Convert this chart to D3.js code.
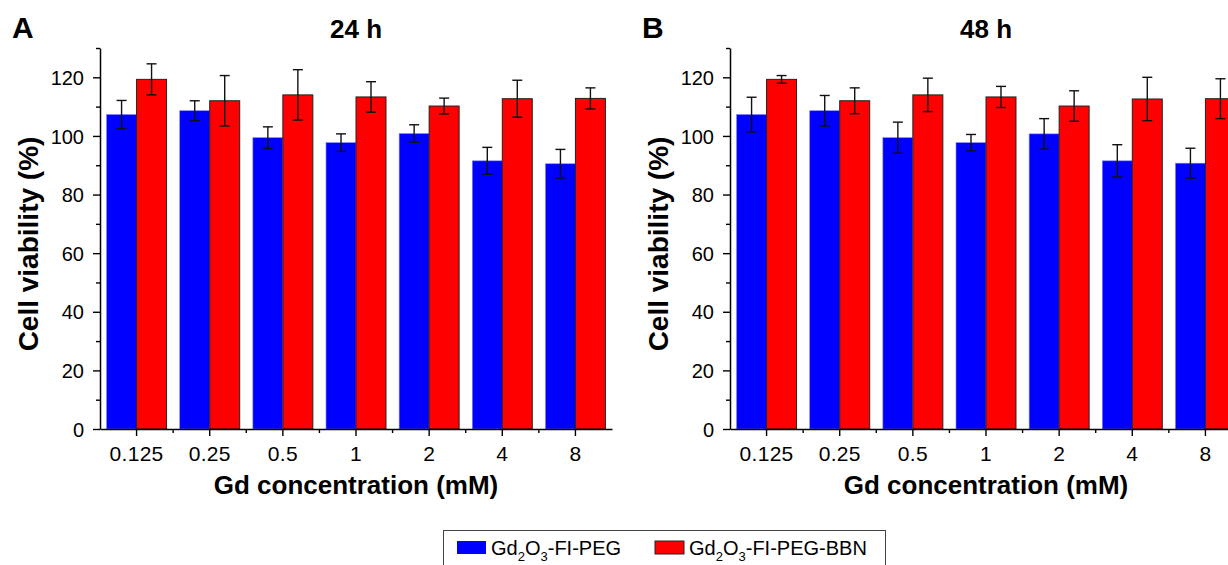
<!DOCTYPE html>
<html>
<head>
<meta charset="utf-8">
<script src="https://cdn.jsdelivr.net/npm/d3@7"></script>
<style>
  body { margin: 0; background: #fff; }
  svg { font-family: "Liberation Sans", Arial, sans-serif; }
</style>
</head>
<body>
<svg id="vis" width="1228" height="565"></svg>
<script>
// concentrations (mM)
var categories = ["0.125", "0.25", "0.5", "1", "2", "4", "8"];

// 24 h
var peg24 = [107.3, 108.6, 99.4, 97.7, 100.8, 91.5, 90.5];
var peg24Err = [4.8, 3.4, 3.7, 3.0, 3.0, 4.6, 4.9];
var bbn24 = [119.3, 112.0, 114.0, 113.3, 110.2, 112.7, 112.8];
var bbn24Err = [5.3, 8.6, 8.6, 5.2, 2.7, 6.3, 3.6];

// 48 h
var peg48 = [107.3, 108.6, 99.4, 97.7, 100.7, 91.5, 90.7];
var peg48Err = [5.9, 5.2, 5.3, 2.8, 5.2, 5.5, 5.1];
var bbn48 = [119.3, 112.0, 114.0, 113.3, 110.2, 112.6, 112.7];
var bbn48Err = [1.3, 4.4, 5.7, 3.6, 5.2, 7.4, 6.8];

var yMajor = [0, 20, 40, 60, 80, 100, 120];
var yMinor = [10, 30, 50, 70, 90, 110, 130];

var seriesNames = ["Gd2O3-FI-PEG", "Gd2O3-FI-PEG-BBN"];
var colors = ["#0000ff", "#ff0000"];

var svg = d3.select("#vis");
var plotTop = 48, plotBottom = 429;

function drawPanel(x0, letter, title, peg, pegErr, bbn, bbnErr) {
    var g = svg.append("g");
    var xScale = d3.scaleBand()
        .domain(categories)
        .range([x0, x0 + 512])
        .paddingInner(0.18)
        .paddingOuter(0.09);
    var yScale = d3.scaleLinear()
        .domain([0, 130])
        .range([plotBottom, plotTop]);
    var bw = xScale.bandwidth() / 2;

    var rows = categories.map(function(c, i) {
        return [
            {cat: c, s: 0, v: peg[i], e: pegErr[i]},
            {cat: c, s: 1, v: bbn[i], e: bbnErr[i]}
        ];
    });
    var flat = [].concat.apply([], rows);

    g.selectAll("rect.bar")
        .data(flat)
        .enter()
        .append("rect")
        .attr("class", "bar")
        .attr("x", function(d) { return xScale(d.cat) + d.s * bw; })
        .attr("y", function(d) { return yScale(d.v); })
        .attr("width", bw)
        .attr("height", function(d) { return yScale(0) - yScale(d.v); })
        .attr("fill", function(d) { return colors[d.s]; })
        .attr("stroke", function(d) { return d.s == 1 ? "#222" : "#8080ff"; })
        .attr("stroke-width", function(d) { return d.s == 1 ? 1 : 0.6; });

    // error bars
    var eb = g.selectAll("g.err")
        .data(flat)
        .enter()
        .append("g")
        .attr("stroke", "#111")
        .attr("stroke-width", 1.4);
    function cx(d) { return xScale(d.cat) + d.s * bw + bw / 2; }
    eb.append("line")
        .attr("x1", cx).attr("x2", cx)
        .attr("y1", function(d) { return yScale(d.v + d.e); })
        .attr("y2", function(d) { return yScale(d.v - d.e); });
    eb.append("line")
        .attr("x1", function(d) { return cx(d) - 5; })
        .attr("x2", function(d) { return cx(d) + 5; })
        .attr("y1", function(d) { return yScale(d.v + d.e); })
        .attr("y2", function(d) { return yScale(d.v + d.e); });
    eb.append("line")
        .attr("x1", function(d) { return cx(d) - 5; })
        .attr("x2", function(d) { return cx(d) + 5; })
        .attr("y1", function(d) { return yScale(d.v - d.e); })
        .attr("y2", function(d) { return yScale(d.v - d.e); });

    // y axis
    var yAxis = g.append("g")
        .attr("transform", "translate(" + x0 + ",0)")
        .call(d3.axisLeft(yScale).tickValues(yMajor).tickSize(7).tickSizeOuter(0));
    g.append("g")
        .attr("transform", "translate(" + x0 + ",0)")
        .call(d3.axisLeft(yScale).tickValues(yMinor).tickSize(4).tickFormat("").tickSizeOuter(0))
        .select(".domain").remove();

    // x axis
    var xAxis = g.append("g")
        .attr("transform", "translate(0," + plotBottom + ")")
        .call(d3.axisBottom(xScale).tickSize(7).tickSizeOuter(0));
    g.selectAll("line.minx")
        .data(categories.slice(1))
        .enter()
        .append("line")
        .attr("class", "minx")
        .attr("x1", function(c) { return xScale(c) - xScale.step() * 0.09; })
        .attr("x2", function(c) { return xScale(c) - xScale.step() * 0.09; })
        .attr("y1", plotBottom)
        .attr("y2", plotBottom + 4)
        .attr("stroke", "#000")
        .attr("stroke-width", 1.4);

    g.selectAll(".domain").attr("stroke", "#000").attr("stroke-width", 1.5);
    g.selectAll(".tick line").attr("stroke", "#000").attr("stroke-width", 1.4);
    g.selectAll(".tick text")
        .attr("font-family", "Liberation Sans, Arial, sans-serif")
        .attr("fill", "#000");
    yAxis.selectAll(".tick text").attr("x", -16).attr("dy", "0.36em").attr("font-size", 20);
    xAxis.selectAll(".tick text").attr("y", 17).attr("font-size", 21).attr("letter-spacing", 0.3);

    // titles
    var mid = x0 + 256;
    g.append("text")
        .attr("x", x0 - 88).attr("y", 38)
        .attr("font-size", 30).attr("font-weight", "bold")
        .text(letter);
    g.append("text")
        .attr("x", mid).attr("y", 38)
        .attr("text-anchor", "middle")
        .attr("font-size", 26).attr("font-weight", "bold")
        .text(title);
    g.append("text")
        .attr("x", mid).attr("y", 494)
        .attr("text-anchor", "middle")
        .attr("font-size", 26).attr("font-weight", "bold")
        .text("Gd concentration (mM)");
    g.append("text")
        .attr("transform", "translate(" + (x0 - 62) + ",244) rotate(-90)")
        .attr("text-anchor", "middle")
        .attr("font-size", 28).attr("font-weight", "bold")
        .text("Cell viability (%)");
}

drawPanel(100, "A", "24 h", peg24, peg24Err, bbn24, bbn24Err);
drawPanel(730, "B", "48 h", peg48, peg48Err, bbn48, bbn48Err);

// legend
var legend = svg.append("g");
legend.append("rect")
    .attr("x", 443.5).attr("y", 530.5)
    .attr("width", 442).attr("height", 50)
    .attr("fill", "none").attr("stroke", "#444").attr("stroke-width", 1);
var items = legend.selectAll("g.item")
    .data(seriesNames)
    .enter()
    .append("g")
    .attr("transform", function(d, i) { return "translate(" + (457 + i * 198) + ",0)"; });
items.append("rect")
    .attr("x", 0).attr("y", 541)
    .attr("width", 29).attr("height", 13)
    .attr("fill", function(d, i) { return colors[i]; })
    .attr("stroke", function(d, i) { return i == 1 ? "#222" : "none"; });
var lt = items.append("text")
    .attr("x", 34).attr("y", 555)
    .attr("font-size", 20);
lt.append("tspan").text("Gd");
lt.append("tspan").attr("font-size", 13).attr("dy", 6).text("2");
lt.append("tspan").attr("dy", -6).text("O");
lt.append("tspan").attr("font-size", 13).attr("dy", 6).text("3");
lt.append("tspan").attr("dy", -6).text(function(d) { return d.slice(5); });
</script>
</body>
</html>
